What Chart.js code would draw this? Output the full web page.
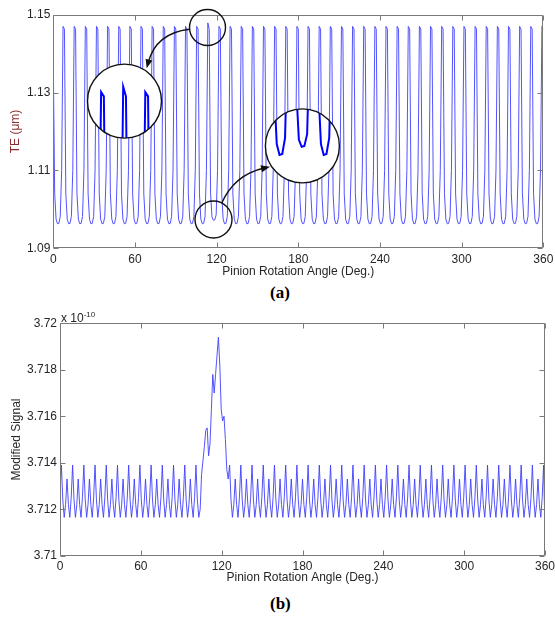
<!DOCTYPE html>
<html>
<head>
<meta charset="utf-8">
<script src="https://cdn.jsdelivr.net/npm/chart.js@4.4.1/dist/chart.umd.min.js"></script>
<style>
  html, body { margin: 0; padding: 0; background: #fff; }
  body { width: 555px; height: 617px; position: relative; overflow: hidden; font-family: "Liberation Sans", Arial, sans-serif; }
  .panel { position: absolute; left: 0; width: 555px; }
  #panel-a { top: 0; height: 283px; }
  #panel-b { top: 290px; height: 300px; }
  .tag { position: absolute; font-family: "Liberation Serif", "Times New Roman", serif; font-weight: bold; font-size: 17px; color: #000; line-height: 17px; }
  #tag-a { left: 270px; top: 284px; }
  #tag-b { left: 270px; top: 595px; }
  #exp { position: absolute; left: 61px; top: 311px; font-size: 12px; line-height: 12px; color: #262626; }
  #exp sup { font-size: 8px; vertical-align: 5px; line-height: 8px; }
</style>
</head>
<body>
<div class="panel" id="panel-a"><canvas id="chart-a"></canvas></div>
<div class="tag" id="tag-a">(a)</div>
<div class="panel" id="panel-b"><canvas id="chart-b"></canvas></div>
<div id="exp">x 10<sup>-10</sup></div>
<div class="tag" id="tag-b">(b)</div>

<script>
// ── data ──────────────────────────────────────────────────────────────────────

// (a) TE in µm, sampled every 1/8 of a tooth (0° .. 360°, 353 samples)
var teValues = [
  1.1370, 1.1040, 1.0975, 1.0963, 1.0964, 1.0982, 1.1100, 1.1470,
  1.1463, 1.1040, 1.0975, 1.0963, 1.0964, 1.0982, 1.1100, 1.1470,
  1.1463, 1.1040, 1.0975, 1.0963, 1.0964, 1.0982, 1.1100, 1.1470,
  1.1463, 1.1040, 1.0975, 1.0963, 1.0964, 1.0982, 1.1100, 1.1470,
  1.1463, 1.1040, 1.0975, 1.0963, 1.0964, 1.0982, 1.1100, 1.1470,
  1.1463, 1.1040, 1.0975, 1.0963, 1.0964, 1.0982, 1.1100, 1.1470,
  1.1463, 1.1040, 1.0975, 1.0963, 1.0964, 1.0982, 1.1100, 1.1470,
  1.1463, 1.1040, 1.0975, 1.0963, 1.0964, 1.0982, 1.1100, 1.1470,
  1.1463, 1.1040, 1.0975, 1.0963, 1.0964, 1.0982, 1.1100, 1.1470,
  1.1463, 1.1040, 1.0975, 1.0963, 1.0964, 1.0982, 1.1100, 1.1470,
  1.1463, 1.1040, 1.0975, 1.0963, 1.0964, 1.0982, 1.1100, 1.1470,
  1.1463, 1.1040, 1.0975, 1.0963, 1.0964, 1.0982, 1.1100, 1.1470,
  1.1463, 1.1040, 1.0975, 1.0963, 1.0964, 1.0982, 1.1100, 1.1470,
  1.1463, 1.1040, 1.0975, 1.0963, 1.0964, 1.0982, 1.1100, 1.1479,
  1.1463, 1.1040, 1.0980, 1.0972, 1.0973, 1.0986, 1.1100, 1.1470,
  1.1463, 1.1040, 1.0975, 1.0963, 1.0964, 1.0982, 1.1100, 1.1470,
  1.1463, 1.1040, 1.0975, 1.0963, 1.0964, 1.0982, 1.1100, 1.1470,
  1.1463, 1.1040, 1.0975, 1.0963, 1.0964, 1.0982, 1.1100, 1.1470,
  1.1463, 1.1040, 1.0975, 1.0963, 1.0964, 1.0982, 1.1100, 1.1470,
  1.1463, 1.1040, 1.0975, 1.0963, 1.0964, 1.0982, 1.1100, 1.1470,
  1.1463, 1.1040, 1.0975, 1.0963, 1.0964, 1.0982, 1.1100, 1.1470,
  1.1463, 1.1040, 1.0975, 1.0963, 1.0964, 1.0982, 1.1100, 1.1470,
  1.1463, 1.1040, 1.0975, 1.0963, 1.0964, 1.0982, 1.1100, 1.1470,
  1.1463, 1.1040, 1.0975, 1.0963, 1.0964, 1.0982, 1.1100, 1.1470,
  1.1463, 1.1040, 1.0975, 1.0963, 1.0964, 1.0982, 1.1100, 1.1470,
  1.1463, 1.1040, 1.0975, 1.0963, 1.0964, 1.0982, 1.1100, 1.1470,
  1.1463, 1.1040, 1.0975, 1.0963, 1.0964, 1.0982, 1.1100, 1.1470,
  1.1463, 1.1040, 1.0975, 1.0963, 1.0964, 1.0982, 1.1100, 1.1470,
  1.1463, 1.1040, 1.0975, 1.0963, 1.0964, 1.0982, 1.1100, 1.1470,
  1.1463, 1.1040, 1.0975, 1.0963, 1.0964, 1.0982, 1.1100, 1.1470,
  1.1463, 1.1040, 1.0975, 1.0963, 1.0964, 1.0982, 1.1100, 1.1470,
  1.1463, 1.1040, 1.0975, 1.0963, 1.0964, 1.0982, 1.1100, 1.1470,
  1.1463, 1.1040, 1.0975, 1.0963, 1.0964, 1.0982, 1.1100, 1.1470,
  1.1463, 1.1040, 1.0975, 1.0963, 1.0964, 1.0982, 1.1100, 1.1470,
  1.1463, 1.1040, 1.0975, 1.0963, 1.0964, 1.0982, 1.1100, 1.1470,
  1.1463, 1.1040, 1.0975, 1.0963, 1.0964, 1.0982, 1.1100, 1.1470,
  1.1463, 1.1040, 1.0975, 1.0963, 1.0964, 1.0982, 1.1100, 1.1470,
  1.1463, 1.1040, 1.0975, 1.0963, 1.0964, 1.0982, 1.1100, 1.1470,
  1.1463, 1.1040, 1.0975, 1.0963, 1.0964, 1.0982, 1.1100, 1.1470,
  1.1463, 1.1040, 1.0975, 1.0963, 1.0964, 1.0982, 1.1100, 1.1470,
  1.1463, 1.1040, 1.0975, 1.0963, 1.0964, 1.0982, 1.1100, 1.1470,
  1.1463, 1.1040, 1.0975, 1.0963, 1.0964, 1.0982, 1.1100, 1.1470,
  1.1463, 1.1040, 1.0975, 1.0963, 1.0964, 1.0982, 1.1100, 1.1470,
  1.1463, 1.1040, 1.0975, 1.0963, 1.0964, 1.0982, 1.1100, 1.1470,
  1.1463
];

// (b) modified signal in units of 1e-10, 0° .. 360°, 347 samples
var sigValues = [
  3.7128,
  3.7139, 3.7124, 3.71165, 3.7122, 3.7133, 3.7122, 3.71165, 3.7125,
  3.7139, 3.7124, 3.71165, 3.7122, 3.7133, 3.7122, 3.71165, 3.7125,
  3.7139, 3.7124, 3.71165, 3.7122, 3.7133, 3.7122, 3.71165, 3.7125,
  3.7139, 3.7124, 3.71165, 3.7122, 3.7133, 3.7122, 3.71165, 3.7125,
  3.7139, 3.7124, 3.71165, 3.7122, 3.7133, 3.7122, 3.71165, 3.7125,
  3.7139, 3.7124, 3.71165, 3.7122, 3.7133, 3.7122, 3.71165, 3.7125,
  3.7139, 3.7124, 3.71165, 3.7122, 3.7133, 3.7122, 3.71165, 3.7125,
  3.7139, 3.7124, 3.71165, 3.7122, 3.7133, 3.7122, 3.71165, 3.7125,
  3.7139, 3.7124, 3.71165, 3.7122, 3.7133, 3.7122, 3.71165, 3.7125,
  3.7139, 3.7124, 3.71165, 3.7122, 3.7133, 3.7122, 3.71165, 3.7125,
  3.7139, 3.7124, 3.71165, 3.7122, 3.7133, 3.7122, 3.71165, 3.7125,
  3.7139, 3.7124, 3.71165, 3.7122, 3.7133, 3.7122, 3.71165, 3.7125,
  3.7139, 3.7124, 3.71165, 3.7120, 3.7135, 3.7141, 3.7147, 3.7154,
  3.7155, 3.7143, 3.7148, 3.7163, 3.7178, 3.7170, 3.7178, 3.7186,
  3.7194, 3.7182, 3.7163, 3.7158, 3.7160, 3.7150, 3.7137, 3.7133,
  3.7139, 3.7124, 3.71165, 3.7122, 3.7133, 3.7122, 3.71165, 3.7125,
  3.7139, 3.7124, 3.71165, 3.7122, 3.7133, 3.7122, 3.71165, 3.7125,
  3.7139, 3.7124, 3.71165, 3.7122, 3.7133, 3.7122, 3.71165, 3.7125,
  3.7139, 3.7124, 3.71165, 3.7122, 3.7133, 3.7122, 3.71165, 3.7125,
  3.7139, 3.7124, 3.71165, 3.7122, 3.7133, 3.7122, 3.71165, 3.7125,
  3.7139, 3.7124, 3.71165, 3.7122, 3.7133, 3.7122, 3.71165, 3.7125,
  3.7139, 3.7124, 3.71165, 3.7122, 3.7133, 3.7122, 3.71165, 3.7125,
  3.7139, 3.7124, 3.71165, 3.7122, 3.7133, 3.7122, 3.71165, 3.7125,
  3.7139, 3.7124, 3.71165, 3.7122, 3.7133, 3.7122, 3.71165, 3.7125,
  3.7139, 3.7124, 3.71165, 3.7122, 3.7133, 3.7122, 3.71165, 3.7125,
  3.7139, 3.7124, 3.71165, 3.7122, 3.7133, 3.7122, 3.71165, 3.7125,
  3.7139, 3.7124, 3.71165, 3.7122, 3.7133, 3.7122, 3.71165, 3.7125,
  3.7139, 3.7124, 3.71165, 3.7122, 3.7133, 3.7122, 3.71165, 3.7125,
  3.7139, 3.7124, 3.71165, 3.7122, 3.7133, 3.7122, 3.71165, 3.7125,
  3.7139, 3.7124, 3.71165, 3.7122, 3.7133, 3.7122, 3.71165, 3.7125,
  3.7139, 3.7124, 3.71165, 3.7122, 3.7133, 3.7122, 3.71165, 3.7125,
  3.7139, 3.7124, 3.71165, 3.7122, 3.7133, 3.7122, 3.71165, 3.7125,
  3.7139, 3.7124, 3.71165, 3.7122, 3.7133, 3.7122, 3.71165, 3.7125,
  3.7139, 3.7124, 3.71165, 3.7122, 3.7133, 3.7122, 3.71165, 3.7125,
  3.7139, 3.7124, 3.71165, 3.7122, 3.7133, 3.7122, 3.71165, 3.7125,
  3.7139, 3.7124, 3.71165, 3.7122, 3.7133, 3.7122, 3.71165, 3.7125,
  3.7139, 3.7124, 3.71165, 3.7122, 3.7133, 3.7122, 3.71165, 3.7125,
  3.7139, 3.7124, 3.71165, 3.7122, 3.7133, 3.7122, 3.71165, 3.7125,
  3.7139, 3.7124, 3.71165, 3.7122, 3.7133, 3.7122, 3.71165, 3.7125,
  3.7139, 3.7124, 3.71165, 3.7122, 3.7133, 3.7122, 3.71165, 3.7125,
  3.7139, 3.7124, 3.71165, 3.7122, 3.7133, 3.7122, 3.71165, 3.7125,
  3.7139, 3.7124, 3.71165, 3.7122, 3.7133, 3.7122, 3.71165, 3.7125,
  3.7139, 3.7124, 3.71165, 3.7122, 3.7133, 3.7122, 3.71165, 3.7125,
  3.7139, 3.7110
];

var angleTicks = [0, 60, 120, 180, 240, 300, 360];
var teTicks    = [1.09, 1.11, 1.13, 1.15];
var sigTicks   = [3.71, 3.712, 3.714, 3.716, 3.718, 3.72];

// sample angles: even spacing over one pinion turn
var teAngles  = teValues.map(function(v, i) { return i * 360 / (teValues.length - 1); });
var sigAngles = sigValues.map(function(v, i) { return i * 360 / (sigValues.length - 1); });

// ── look ──────────────────────────────────────────────────────────────────────

var TXT  = "#262626";
var FONT = { family: "Liberation Sans", size: 12 };
var LINE = "#4040ff";

// zoom callouts on panel (a), in data units (deg, µm)
var rings = [
  { at: [113.3, 1.1467], r: 18 },
  { at: [117.7, 1.0974], r: 18.5 }
];
var lenses = [
  { at: [52.3, 1.1278],  r: 37, src: [114.0, 1.1455], sx: 2.7, sy: 6000 },
  { at: [183.0, 1.1163], r: 37, src: [117.9, 1.0973], sx: 2.7, sy: 9000 }
];
var arrows = [
  { from: [99.9, 1.14625],  ctrl: [75.5, 1.14525],  to: [68.6, 1.13623] },
  { from: [123.7, 1.10156], ctrl: [132.8, 1.10883], to: [159.2, 1.11096] }
];

// ── plugins ───────────────────────────────────────────────────────────────────

// matlab style box with inward ticks on all four sides
var boxAxes = {
  id: "boxAxes",
  afterDraw: function(chart) {
    var ctx = chart.ctx, a = chart.chartArea;
    var xs = chart.scales.x, ys = chart.scales.y, len = 5;
    var l = Math.round(a.left) + 0.5, r = Math.round(a.right) - 0.5;
    var t = Math.round(a.top) + 0.5, b = Math.round(a.bottom) - 0.5;
    ctx.save();
    ctx.strokeStyle = "#7a7a7a";
    ctx.lineWidth = 1;
    ctx.beginPath();
    xs.ticks.forEach(function(tk) {
      var px = Math.round(xs.getPixelForValue(tk.value)) + 0.5;
      ctx.moveTo(px, b); ctx.lineTo(px, b - len);
      ctx.moveTo(px, t); ctx.lineTo(px, t + len);
    });
    ys.ticks.forEach(function(tk) {
      var py = Math.round(ys.getPixelForValue(tk.value)) + 0.5;
      ctx.moveTo(l, py); ctx.lineTo(l + len, py);
      ctx.moveTo(r, py); ctx.lineTo(r - len, py);
    });
    ctx.rect(l, t, r - l, b - t);
    ctx.stroke();
    ctx.restore();
  }
};

function drawArrow(ctx, p0, c, p1) {
  var ang = Math.atan2(p1.y - c.y, p1.x - c.x);
  var L = 9, W = 3.5;
  ctx.beginPath();
  ctx.moveTo(p0.x, p0.y);
  ctx.quadraticCurveTo(c.x, c.y, p1.x - 6 * Math.cos(ang), p1.y - 6 * Math.sin(ang));
  ctx.stroke();
  ctx.beginPath();
  ctx.moveTo(p1.x, p1.y);
  ctx.lineTo(p1.x - L * Math.cos(ang) + W * Math.sin(ang), p1.y - L * Math.sin(ang) - W * Math.cos(ang));
  ctx.lineTo(p1.x - L * Math.cos(ang) - W * Math.sin(ang), p1.y - L * Math.sin(ang) + W * Math.cos(ang));
  ctx.closePath();
  ctx.fill();
}

var callouts = {
  id: "callouts",
  afterDraw: function(chart) {
    var ctx = chart.ctx, xs = chart.scales.x, ys = chart.scales.y;
    function px(p) { return { x: xs.getPixelForValue(p[0]), y: ys.getPixelForValue(p[1]) }; }

    ctx.save();
    ctx.strokeStyle = "#111";
    ctx.fillStyle = "#111";
    ctx.lineWidth = 1.4;

    rings.forEach(function(g) {
      var c = px(g.at);
      ctx.beginPath();
      ctx.arc(c.x, c.y, g.r, 0, Math.PI * 2);
      ctx.stroke();
    });

    arrows.forEach(function(ar) {
      drawArrow(ctx, px(ar.from), px(ar.ctrl), px(ar.to));
    });

    lenses.forEach(function(ln) {
      var c = px(ln.at);
      ctx.save();
      ctx.beginPath();
      ctx.arc(c.x, c.y, ln.r, 0, Math.PI * 2);
      ctx.fillStyle = "#fff";
      ctx.fill();
      ctx.clip();
      ctx.beginPath();
      var started = false;
      teAngles.forEach(function(a, i) {
        if (Math.abs(a - ln.src[0]) * ln.sx > ln.r + 8) return;
        var x = c.x + (a - ln.src[0]) * ln.sx;
        var y = c.y - (teValues[i] - ln.src[1]) * ln.sy;
        if (started) ctx.lineTo(x, y); else ctx.moveTo(x, y);
        started = true;
      });
      ctx.strokeStyle = "#0000ff";
      ctx.lineWidth = 2;
      ctx.stroke();
      ctx.restore();
      ctx.beginPath();
      ctx.arc(c.x, c.y, ln.r, 0, Math.PI * 2);
      ctx.stroke();
    });
    ctx.restore();
  }
};

// ── charts ────────────────────────────────────────────────────────────────────

function tickSetter(list) {
  return function(scale) {
    scale.ticks = list.map(function(v) { return { value: v }; });
  };
}

function makeChart(id, xVals, yVals, o) {
  var pts = yVals.map(function(v, i) { return { x: xVals[i], y: v }; });
  return new Chart(document.getElementById(id), {
    type: "line",
    data: {
      datasets: [{
        data: pts,
        borderColor: LINE,
        borderWidth: 0.9,
        pointRadius: 0,
        tension: 0,
        fill: false
      }]
    },
    plugins: o.plugins,
    options: {
      responsive: true,
      maintainAspectRatio: false,
      animation: false,
      events: [],
      layout: { padding: { top: o.top, right: o.right, left: 0, bottom: 0 } },
      plugins: { legend: { display: false }, tooltip: { enabled: false } },
      scales: {
        x: {
          type: "linear",
          min: 0, max: 360,
          afterBuildTicks: tickSetter(angleTicks),
          afterFit: function(s) {
            s.height = o.xHeight;
            s.paddingLeft = 0;
            s.paddingRight = 0;
          },
          grid: { display: false, drawTicks: false },
          border: { display: false },
          ticks: {
            color: TXT, font: FONT, padding: 4, maxRotation: 0, autoSkip: false,
            callback: function(v) { return String(v); }
          },
          title: {
            display: true, text: "Pinion Rotation Angle (Deg.)",
            color: TXT, font: FONT, padding: { top: 0, bottom: o.xTitlePad }
          }
        },
        y: {
          type: "linear",
          min: o.yMin, max: o.yMax,
          afterBuildTicks: tickSetter(o.yTicks),
          afterFit: function(s) {
            s.width = o.yWidth;
            s.paddingTop = 0;
            s.paddingBottom = 0;
          },
          grid: { display: false, drawTicks: false },
          border: { display: false },
          ticks: {
            color: TXT, font: FONT, padding: 3, autoSkip: false,
            callback: o.yFmt
          },
          title: {
            display: true, text: o.yTitle,
            color: o.yTitleColor, font: FONT, padding: { top: o.yTitlePad, bottom: 0 }
          }
        }
      }
    }
  });
}

makeChart("chart-a", teAngles, teValues, {
  plugins: [boxAxes, callouts],
  top: 14.7, right: 11.7, xHeight: 34.7, yWidth: 53.3,
  xTitlePad: 4, yTitlePad: 8,
  yMin: 1.09, yMax: 1.15, yTicks: teTicks,
  yFmt: function(v) { return v.toFixed(2); },
  yTitle: "TE (\u03bcm)", yTitleColor: "#8b2e2e"
});

makeChart("chart-b", sigAngles, sigValues, {
  plugins: [boxAxes],
  top: 33.3, right: 10, xHeight: 34.3, yWidth: 60,
  xTitlePad: 5, yTitlePad: 9.5,
  yMin: 3.71, yMax: 3.72, yTicks: sigTicks,
  yFmt: function(v) { return String(+v.toFixed(3)); },
  yTitle: "Modified Signal", yTitleColor: TXT
});
</script>
</body>
</html>
